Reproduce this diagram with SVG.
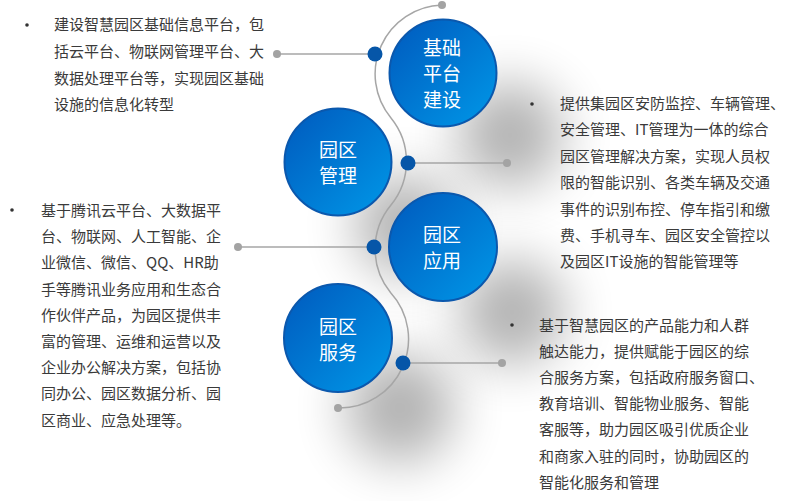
<svg xmlns="http://www.w3.org/2000/svg" width="790" height="501" viewBox="0 0 790 501">
<defs>
<linearGradient id="gBlue" x1="0" y1="0" x2="1" y2="1">
<stop offset="0" stop-color="#0059bd"/>
<stop offset="1" stop-color="#0098e8"/>
</linearGradient>
<filter id="fShadow" x="-150%" y="-150%" width="400%" height="400%">
<feGaussianBlur stdDeviation="26"/>
</filter>
<style>
.txt{font-family:"Noto Sans CJK SC","Liberation Sans",sans-serif;font-size:15px;fill:#3a3a3a;}
.ctxt{font-family:"Noto Sans CJK SC","Liberation Sans",sans-serif;font-size:19px;fill:#ffffff;text-anchor:middle;}
.circ{fill:url(#gBlue);stroke:#0b58ad;stroke-width:2;}
.shadow{fill:#000;opacity:0.3;filter:url(#fShadow);}
.line{stroke:#a6a6a6;stroke-width:1.5;fill:none;}
.gdot{fill:#a3a3a3;}
.bdot{fill:#0656a8;}
.bullet{fill:#333;}
</style>
</defs>
<rect width="790" height="501" fill="#ffffff"/>
<g id="shadows">
<circle class="shadow" cx="510" cy="135" r="52"/>
<circle class="shadow" cx="405" cy="225" r="50"/>
<circle class="shadow" cx="512" cy="312" r="52"/>
<circle class="shadow" cx="400" cy="408" r="54"/>
</g>
<g id="connectors">
<path class="line" d="M442,5 A69,69 0 0 0 391,118 A69,69 0 0 1 391,205 A69,69 0 0 0 390.5,292.5 A69,69 0 0 1 338,408"/>
<line class="line" x1="277" y1="54" x2="375" y2="54"/>
<line class="line" x1="408" y1="163" x2="507" y2="163"/>
<line class="line" x1="238" y1="247" x2="374" y2="247"/>
<line class="line" x1="403" y1="363" x2="502" y2="363"/>
<circle class="gdot" cx="442" cy="5" r="4"/>
<circle class="gdot" cx="277" cy="54" r="4"/>
<circle class="gdot" cx="507" cy="163" r="4"/>
<circle class="gdot" cx="238" cy="247" r="4"/>
<circle class="gdot" cx="502" cy="363" r="4"/>
<circle class="gdot" cx="338" cy="408" r="4"/>
<circle class="bdot" cx="375" cy="54" r="7.5"/>
<circle class="bdot" cx="408" cy="163" r="7.5"/>
<circle class="bdot" cx="374" cy="247" r="7.5"/>
<circle class="bdot" cx="403" cy="363" r="7.5"/>
</g>
<g id="node-jichu">
<circle class="circ" cx="443" cy="73" r="53.5"/>
<text class="ctxt" x="442" y="55">基础</text>
<text class="ctxt" x="442" y="81">平台</text>
<text class="ctxt" x="442" y="107">建设</text>
</g>
<g id="node-guanli">
<circle class="circ" cx="338" cy="162" r="53.5"/>
<text class="ctxt" x="338" y="157">园区</text>
<text class="ctxt" x="338" y="183">管理</text>
</g>
<g id="node-yingyong">
<circle class="circ" cx="443" cy="247" r="54"/>
<text class="ctxt" x="442" y="242">园区</text>
<text class="ctxt" x="442" y="268">应用</text>
</g>
<g id="node-fuwu">
<circle class="circ" cx="338" cy="338" r="54"/>
<text class="ctxt" x="338" y="334">园区</text>
<text class="ctxt" x="338" y="360">服务</text>
</g>
<g id="text-jichu">
<circle class="bullet" cx="27" cy="25" r="1.8"/>
<text class="txt" x="54" y="29.5">建设智慧园区基础信息平台，包</text>
<text class="txt" x="54" y="56.5">括云平台、物联网管理平台、大</text>
<text class="txt" x="54" y="83.5">数据处理平台等，实现园区基础</text>
<text class="txt" x="54" y="110">设施的信息化转型</text>
</g>
<g id="text-guanli">
<circle class="bullet" cx="532" cy="104" r="1.8"/>
<text class="txt" x="560" y="109">提供集园区安防监控、车辆管理、</text>
<text class="txt" x="560" y="135.4">安全管理、IT管理为一体的综合</text>
<text class="txt" x="560" y="161.8">园区管理解决方案，实现人员权</text>
<text class="txt" x="560" y="188.2">限的智能识别、各类车辆及交通</text>
<text class="txt" x="560" y="214.6">事件的识别布控、停车指引和缴</text>
<text class="txt" x="560" y="241">费、手机寻车、园区安全管控以</text>
<text class="txt" x="560" y="267.4">及园区IT设施的智能管理等</text>
</g>
<g id="text-yingyong">
<circle class="bullet" cx="12" cy="210" r="1.8"/>
<text class="txt" x="41" y="216">基于腾讯云平台、大数据平</text>
<text class="txt" x="41" y="242.2">台、物联网、人工智能、企</text>
<text class="txt" x="41" y="268.4">业微信、微信、QQ、HR助</text>
<text class="txt" x="41" y="294.6">手等腾讯业务应用和生态合</text>
<text class="txt" x="41" y="320.8">作伙伴产品，为园区提供丰</text>
<text class="txt" x="41" y="347">富的管理、运维和运营以及</text>
<text class="txt" x="41" y="373.2">企业办公解决方案，包括协</text>
<text class="txt" x="41" y="399.4">同办公、园区数据分析、园</text>
<text class="txt" x="41" y="425.6">区商业、应急处理等。</text>
</g>
<g id="text-fuwu">
<circle class="bullet" cx="512" cy="325" r="1.8"/>
<text class="txt" x="539" y="330.5">基于智慧园区的产品能力和人群</text>
<text class="txt" x="539" y="356.7">触达能力，提供赋能于园区的综</text>
<text class="txt" x="539" y="382.9">合服务方案，包括政府服务窗口、</text>
<text class="txt" x="539" y="409.1">教育培训、智能物业服务、智能</text>
<text class="txt" x="539" y="435.3">客服等，助力园区吸引优质企业</text>
<text class="txt" x="539" y="461.5">和商家入驻的同时，协助园区的</text>
<text class="txt" x="539" y="487.7">智能化服务和管理</text>
</g>
</svg>
